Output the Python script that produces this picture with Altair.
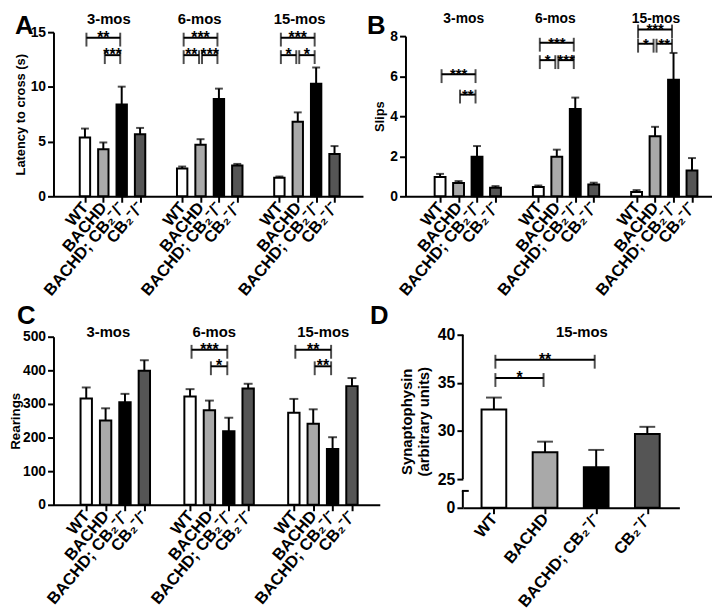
import json
import altair as alt
import pandas as pd

FONT = "Liberation Sans"

# ---------------- data ----------------
genotypes = ["WT", "BACHD", "BACHD; CB₂⁻/⁻", "CB₂⁻/⁻"]
ages = ["3-mos", "6-mos", "15-mos"]
fill_colors = ["#ffffff", "#a9a9a9", "#000000", "#555555"]

# order: 3-mos (WT, BACHD, BACHD;CB2, CB2), 6-mos (...), 15-mos (...)
latency_mean = [5.37, 4.29, 8.39, 5.67, 2.54, 4.71, 8.90, 2.81, 1.69, 6.82, 10.29, 3.86]
latency_sem = [0.82, 0.63, 1.63, 0.58, 0.18, 0.51, 0.94, 0.15, 0.12, 0.85, 1.48, 0.73]

slips_mean = [0.96, 0.66, 1.98, 0.43, 0.46, 1.98, 4.36, 0.59, 0.21, 3.00, 5.82, 1.29]
slips_sem = [0.16, 0.10, 0.53, 0.08, 0.08, 0.35, 0.57, 0.09, 0.10, 0.47, 1.34, 0.62]

rearings_mean = [316, 251, 305, 399, 322, 281, 219, 346, 274, 241, 166, 353]
rearings_sem = [33, 36, 25, 31, 22, 29, 40, 14, 41, 43, 35, 24]

synapto_mean = [32.23, 27.79, 26.24, 29.68]
synapto_sem = [1.24, 1.10, 1.79, 0.75]

# significance brackets: (age index, from genotype, to genotype, height, label)
latency_brackets = [
    (0, 0, 2, 14.5, "**"), (0, 1, 2, 12.9, "***"),
    (1, 0, 2, 14.5, "***"), (1, 0, 1, 12.9, "**"), (1, 1, 2, 12.9, "***"),
    (2, 0, 2, 14.5, "***"), (2, 0, 1, 12.9, "*"), (2, 1, 2, 12.9, "*"),
]
slips_brackets = [
    (0, 0, 2, 6.1, "***"), (0, 1, 2, 5.08, "**"),
    (1, 0, 2, 7.67, "***"), (1, 0, 1, 6.8, "*"), (1, 1, 2, 6.8, "***"),
    (2, 0, 2, 8.33, "***"), (2, 0, 1, 7.62, "*"), (2, 1, 2, 7.62, "**"),
]
rearings_brackets = [
    (1, 0, 2, 461, "***"), (1, 1, 2, 412, "*"),
    (2, 0, 2, 461, "**"), (2, 1, 2, 412, "**"),
]
synapto_brackets = [
    (0, 0, 2, 37.4, "**"), (0, 0, 1, 35.5, "*"),
]


def bar_table(means, sems, stride, age_list):
    rows = []
    for i, (m, s) in enumerate(zip(means, sems)):
        a, g = divmod(i, 4)
        rows.append({"age": age_list[a], "geno": genotypes[g],
                     "slot": round(a * stride + g, 3), "mean": m, "top": m + s})
    return pd.DataFrame(rows)


def bracket_table(brackets, stride):
    rows = []
    for a, g1, g2, h, lab in brackets:
        s1 = round(a * stride + g1, 3)
        s2 = round(a * stride + g2, 3)
        rows.append({"s1": s1, "s2": s2, "mid": (s1 + s2) / 2, "h": h, "stars": lab})
    return pd.DataFrame(rows)


def panel(means, sems, brackets, age_list, stride, group_offsets, group_y,
          xdomain, width, height, ydomain, yrange, yvalues, ytitle,
          letter, letter_xy, bar_size, cap_size, tick_font, title_font,
          xlab_font, title_pad, xrange=None, yoffset=0, breaks=None,
          group_font=15, star_font=16):
    df = bar_table(means, sems, stride, age_list)
    bt = bracket_table(brackets, stride)
    slots = list(df["slot"])
    labels = list(df["geno"])
    label_expr = "%s[indexof(%s, datum.value)]" % (
        json.dumps(labels, ensure_ascii=False), json.dumps(slots))

    xs_kw = dict(domain=xdomain, nice=False, zero=False)
    if xrange is not None:
        xs_kw["range"] = xrange
    xscale = alt.Scale(**xs_kw)
    yscale = alt.Scale(domain=ydomain, range=yrange, nice=False)

    xaxis = alt.Axis(values=slots, labelExpr=label_expr, title=None,
                     labelAngle=-50, labelAlign="right", labelBaseline="middle",
                     labelFontSize=xlab_font, labelPadding=2, labelOverlap=False,
                     labelFlush=False, tickSize=6)
    yaxis_kw = dict(values=yvalues, title=ytitle, labelFontSize=tick_font,
                    titleFontSize=title_font, labelPadding=2, titlePadding=title_pad,
                    tickSize=6, labelOverlap=False, labelFlush=False)
    if yoffset:
        yaxis_kw["offset"] = yoffset
    if breaks is not None:
        yaxis_kw["domain"] = False
    yaxis = alt.Axis(**yaxis_kw)

    def X(f):
        return alt.X(f, scale=xscale, axis=xaxis)

    def Y(f):
        return alt.Y(f, scale=yscale, axis=yaxis)

    base = alt.Chart(df)
    bars = base.mark_bar(size=bar_size, stroke="black", strokeWidth=2,
                         orient="vertical").encode(
        x=X("slot:Q"), y=Y("mean:Q"),
        fill=alt.Fill("geno:N", scale=alt.Scale(domain=genotypes, range=fill_colors),
                      legend=None),
    )
    err = base.mark_rule(strokeWidth=2, color="black").encode(
        x=X("slot:Q"), y=Y("mean:Q"), y2="top:Q")
    caps = base.mark_tick(thickness=2, size=cap_size, color="black",
                          orient="horizontal").encode(x=X("slot:Q"), y=Y("top:Q"))
    bb = alt.Chart(bt)
    bline = bb.mark_rule(strokeWidth=2, color="black", xOffset=1.5, x2Offset=-1.5).encode(
        x=X("s1:Q"), x2="s2:Q", y=Y("h:Q"))
    bend1 = bb.mark_tick(orient="vertical", thickness=2, size=14, color="black",
                         xOffset=1.5, yOffset=2).encode(x=X("s1:Q"), y=Y("h:Q"))
    bend2 = bb.mark_tick(orient="vertical", thickness=2, size=14, color="black",
                         xOffset=-1.5, yOffset=2).encode(x=X("s2:Q"), y=Y("h:Q"))
    stars = bb.mark_text(font=FONT, fontWeight="bold", fontSize=star_font, dy=5,
                         baseline="alphabetic", align="center", color="black").encode(
        x=X("mid:Q"), y=Y("h:Q"), text="stars:N")
    gdf = pd.DataFrame({"age": age_list,
                        "pos": [i * stride + o for i, o in enumerate(group_offsets)]})
    glab = alt.Chart(gdf).mark_text(font=FONT, fontWeight="bold", fontSize=group_font,
                                    baseline="top", align="center",
                                    color="black").encode(
        x=X("pos:Q"), y=alt.value(group_y), text="age:N")
    ldf = pd.DataFrame({"letter": [letter]})
    let = alt.Chart(ldf).mark_text(font=FONT, fontWeight="bold", fontSize=26,
                                   baseline="top", align="left",
                                   color="black").encode(
        x=alt.value(letter_xy[0]), y=alt.value(letter_xy[1]), text="letter:N")

    layers = [bars, err, caps, bline, bend1, bend2, stars, glab, let]
    if breaks is not None:
        ax_x, low_top, up_bot, up_top = breaks
        sdf = pd.DataFrame({"y1": [0, up_bot], "y2": [low_top, up_top]})
        seg = alt.Chart(sdf).mark_rule(strokeWidth=2, color="black").encode(
            x=alt.value(ax_x), y=Y("y1:Q"), y2="y2:Q")
        cdf = pd.DataFrame({"y": [low_top]})
        cap = alt.Chart(cdf).mark_rule(strokeWidth=2, color="black").encode(
            x=alt.value(ax_x - 1), x2=alt.value(ax_x + 6), y=Y("y:Q"))
        layers += [seg, cap]
    return alt.layer(*layers).properties(width=width, height=height)


A = panel(latency_mean, latency_sem, latency_brackets, ages, 5.29, [1.3, 0.95, 1.1], -20.5,
          [-1.443, 14.859], 313, 166, [0, 15], [166, 0], [0, 5, 10, 15],
          "Latency to cross (s)", "A", (-39, -19), 10.5, 8, 14, 13, 16.5, 3)
B = panel(slips_mean, slips_sem, slips_brackets, ages, 5.32, [1.28, 0.92, 1.05], -20.5,
          [-1.606, 14.456], 310, 166, [0, 8], [166, 4], [0, 2, 4, 6, 8],
          "Slips", "B", (-39, -19), 11, 8, 14, 13, 16.5, 3, group_font=14, star_font=15)
C = panel(rearings_mean, rearings_sem, rearings_brackets, ages, 5.36, [1.14, 1.25, 1.52], -10,
          [-1.436, 14.901], 330, 172, [0, 500], [172, 2], [0, 100, 200, 300, 400, 500],
          "Rearings", "C", (-37, -32), 11.5, 9, 14, 13.5, 16.5, 0)
D = panel(synapto_mean, synapto_sem, synapto_brackets, ["15-mos"], 5, [1.72], -10,
          [-0.511, 3.53], 277, 175, [0, 25, 40], [175, 146, 0], [0, 25, 30, 35, 40],
          ["Synaptophysin", "(arbitrary units)"], "D", (-36, -32), 25, 16, 16, 15, 16.5, 6,
          xrange=[58, 277], yoffset=-58, breaks=(58, 14.7, 25, 40))

chart = alt.concat(
    A, B, C, D, columns=2,
    spacing={"row": 140, "column": 26}, bounds="flush", align="each",
).properties(padding=0).configure_view(stroke=None).configure_axis(
    labelFont=FONT, titleFont=FONT, labelFontWeight="bold", titleFontWeight="bold",
    labelColor="black", titleColor="black", domainColor="black", tickColor="black",
    domainWidth=2, tickWidth=2, grid=False,
)

chart.save("out.html", embed_options={"renderer": "svg", "actions": False})
